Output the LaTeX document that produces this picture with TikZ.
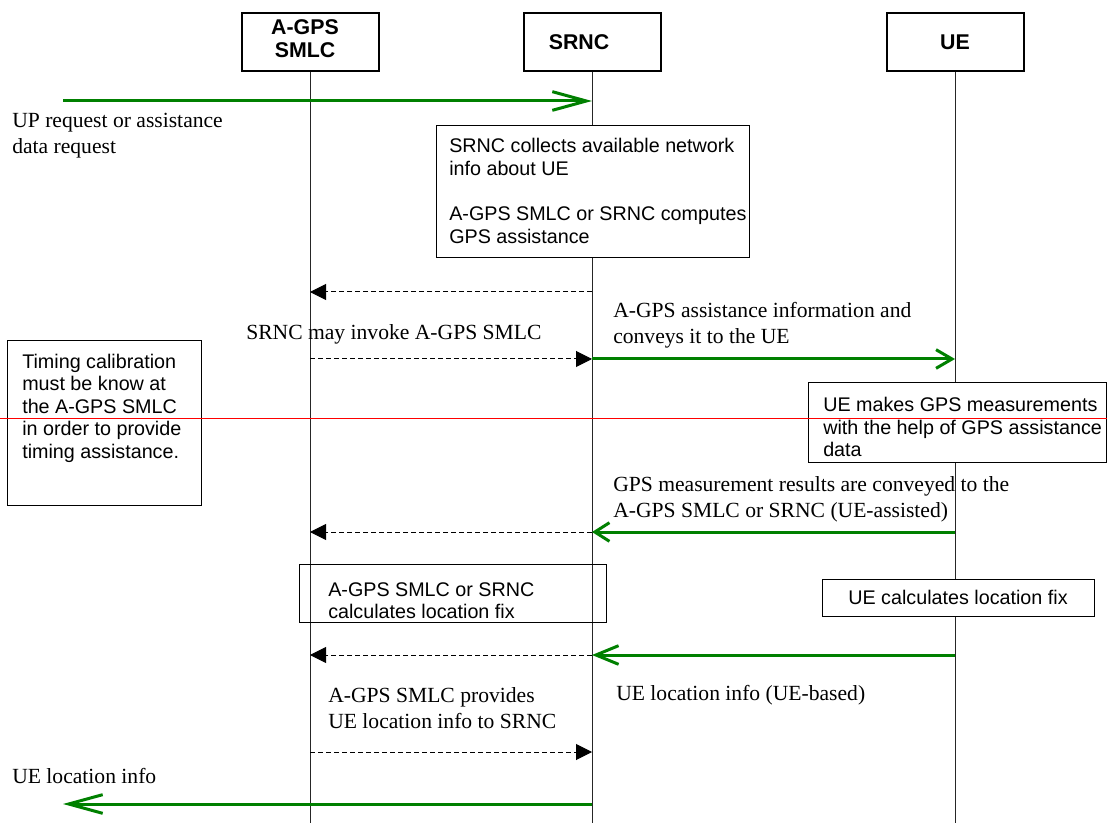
\documentclass[tikz,border=0pt]{standalone}
\usepackage{fontspec}
\setmainfont{Liberation Serif}
\setsansfont{Liberation Sans}
\usetikzlibrary{arrows.meta}
\definecolor{msggreen}{RGB}{0,128,0}
\begin{document}
\begin{tikzpicture}[x=0.75pt,y=-0.75pt,
  entity/.style={draw, line width=1.5pt, fill=white, minimum width=102.75pt, minimum height=43.5pt, inner sep=0pt},
  entitytext/.style={inner sep=0pt, align=center, font=\sffamily\bfseries\fontsize{16}{17.2}\selectfont},
  lifeline/.style={draw=black!85, line width=0.75pt},
  notebox/.style={draw, line width=0.75pt, inner sep=0pt},
  notetext/.style={inner sep=0pt, anchor=west, align=left, font=\sffamily\fontsize{14.8}{16.9}\selectfont},
  label/.style={inner sep=0pt, anchor=west, align=left, font=\fontsize{16.2}{19.4}\selectfont},
  greenmsg/.style={draw=msggreen, line width=2.25pt, -{Straight Barb[length=12pt,width=14pt]}},
  dashmsg/.style={draw=black, line width=0.75pt, dash pattern=on 3.75pt off 2.25pt,
    -{Triangle[length=12pt,width=12pt]}},
]
% page area
\useasboundingbox (0,0) rectangle (1107,823);
\coordinate (bottom) at (0,823);

% entities and their lifelines
\node[entity] (smlc) at (310,42) {};
\node[entity] (srnc) at (592,42) {};
\node[entity] (ue)   at (955,42) {};
\node[entitytext] (smlctxt) at (305,39) {A-GPS\\SMLC};
\node[entitytext] (srnctxt) at (579,42) {SRNC};
\node[entitytext] (uetxt)   at (955,42) {UE};
\draw[lifeline] (smlc.south) -- (smlc.south |- bottom);
\draw[lifeline] (srnc.south) -- (srnc.south |- bottom);
\draw[lifeline] (ue.south)   -- (ue.south |- bottom);

% incoming request
\coordinate (req) at (63,101);
\draw[greenmsg, -{Straight Barb[length=25.5pt,width=14pt]}] (req) -- (req -| srnc);
\node[label] (reqlbl) at (12,136) {UP request or assistance\\data request};

% SRNC collects information
\node[notebox, fill=white, minimum width=234.75pt, minimum height=99pt] (collect) at (592.5,192) {};
\node[notetext] (collecttxt) at (449,191) {SRNC collects available network\\info about UE\\[16.9pt]A-GPS SMLC or SRNC computes\\GPS assistance};

% SMLC invocation
\coordinate (m1) at (0,292);
\draw[dashmsg] (m1 -| srnc) -- (m1 -| smlc);
\node[label] (invlbl) at (246,334) {SRNC may invoke A-GPS SMLC};
\coordinate (m2) at (0,359);
\draw[dashmsg] (m2 -| smlc) -- (m2 -| srnc);

% assistance data to the UE
\coordinate (m3) at (0,359);
\draw[greenmsg] (m3 -| srnc) -- (m3 -| ue);
\node[label] (asslbl) at (613,325) {A-GPS assistance information and\\conveys it to the UE};

% timing note
\node[notebox, minimum width=145.5pt, minimum height=123pt] (timing) at (104,423) {};
\node[notetext] (timingtxt) at (22,408) {Timing calibration\\must be know at\\the A-GPS SMLC\\in order to provide\\timing assistance.};

% UE measurements
\node[notebox, fill=white, minimum width=223pt, minimum height=60pt] (meas) at (957.5,423) {};
\node[notetext] (meastxt) at (823,427) {UE makes GPS measurements\\with the help of GPS assistance\\data};

% measurement results
\node[label] (reslbl) at (613,499) {GPS measurement results are conveyed to the\\A-GPS SMLC or SRNC (UE-assisted)};
\coordinate (m4) at (0,532);
\draw[greenmsg, -{Straight Barb[length=11pt,width=14pt]}] (m4 -| ue) -- (m4 -| srnc);
\draw[dashmsg] (m4 -| srnc) -- (m4 -| smlc);

% location calculation
\node[notebox, minimum width=230.25pt, minimum height=43.5pt] (calc) at (452.5,593) {};
\node[notetext] (calctxt) at (328,600.5) {A-GPS SMLC or SRNC\\calculates location fix};
\node[notebox, fill=white, minimum width=204pt, minimum height=27.75pt, font=\sffamily\fontsize{14.8}{16.9}\selectfont] (uecalc) at (958,597.5) {UE calculates location fix};

% location result
\coordinate (m5) at (0,655);
\draw[greenmsg, -{Straight Barb[length=17pt,width=14pt]}] (m5 -| ue) -- (m5 -| srnc);
\draw[dashmsg] (m5 -| srnc) -- (m5 -| smlc);
\node[label] (provlbl) at (328,708) {A-GPS SMLC provides\\UE location info to SRNC};
\node[label] (uebased) at (616,695) {UE location info (UE-based)};
\coordinate (m6) at (0,752);
\draw[dashmsg] (m6 -| smlc) -- (m6 -| srnc);

% outgoing location report
\node[label] (outlbl) at (12,776) {UE location info};
\coordinate (out) at (63,804);
\draw[greenmsg, -{Straight Barb[length=25.5pt,width=14pt]}] (out -| srnc) -- (out);

% reference line across the page
\draw[red, line width=0.75pt] (0,419) -- (1107,419);
\end{tikzpicture}
\end{document}
